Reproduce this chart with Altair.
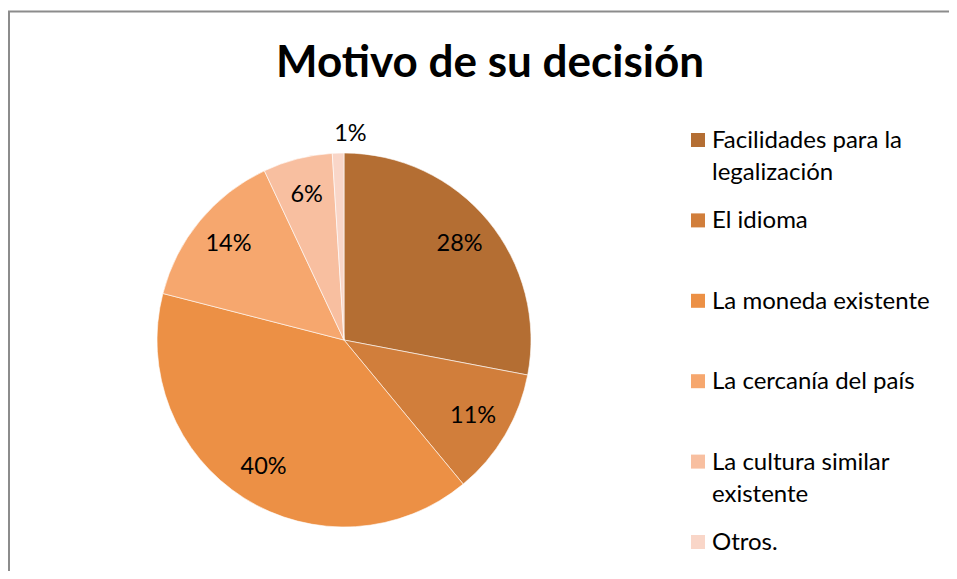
import altair as alt
import pandas as pd

title_text = "Motivo de su decisión"
categories = [
    "Facilidades para la legalización",
    "El idioma",
    "La moneda existente",
    "La cercanía del país",
    "La cultura similar existente",
    "Otros.",
]
legend_labels = [
    "Facilidades para la\nlegalización",
    "El idioma",
    "La moneda existente",
    "La cercanía del país",
    "La cultura similar\nexistente",
    "Otros.",
]
values = [28, 11, 40, 14, 6, 1]
colors = ["#B46E33", "#D17E3B", "#EC9045", "#F6A76E", "#F8BFA0", "#F9D6C8"]

df = pd.DataFrame({
    "cat": categories,
    "legend": legend_labels,
    "value": values,
    "idx": list(range(len(categories))),
})

FONT = "Lato"
cx, cy, R = 336, 332, 187
W, H = 941, 563

color_scale = alt.Scale(domain=categories, range=colors)

base = alt.Chart(df)

pie = base.mark_arc(radius=R, stroke="white", strokeWidth=0.6).encode(
    theta=alt.Theta("value:Q", stack=True),
    color=alt.Color("cat:N", scale=color_scale, legend=None),
    order=alt.Order("idx:Q"),
    x=alt.value(cx),
    y=alt.value(cy),
)

labels = base.transform_calculate(
    lr="datum.value < 3 ? 206 : 150",
    lab="format(datum.value, 'd') + '%'",
).mark_text(font=FONT, fontSize=23.5, color="#000000").encode(
    theta=alt.Theta("value:Q", stack=True),
    radius=alt.Radius("lr:Q", scale=None),
    text="lab:N",
    order=alt.Order("idx:Q"),
    x=alt.value(cx),
    y=alt.value(cy),
)

ypos = alt.Y("cat:N", sort=categories,
             scale=alt.Scale(type="point", domain=categories, range=[132, 534], padding=0),
             axis=None)

leg_sq = base.mark_square(size=196, opacity=1).encode(
    x=alt.value(690),
    y=ypos,
    color=alt.Color("cat:N", scale=color_scale, legend=None),
)

leg_txt = base.mark_text(font=FONT, fontSize=24, align="left", baseline="alphabetic",
                         lineBreak="\n", lineHeight=32, dy=8, color="#000000").encode(
    x=alt.value(704),
    y=ypos,
    text="legend:N",
)

title = alt.Chart(pd.DataFrame({"t": [title_text]})).mark_text(
    font=FONT, fontSize=44, fontWeight="bold", align="center", baseline="alphabetic", color="#000000"
).encode(x=alt.value(482), y=alt.value(69), text="t:N")

frame_left = alt.Chart(pd.DataFrame({"a": [0]})).mark_rule(color="#8C8C8C", strokeWidth=2).encode(
    x=alt.value(1), y=alt.value(3), y2=alt.value(H + 20))
frame_top = alt.Chart(pd.DataFrame({"a": [0]})).mark_rule(color="#8C8C8C", strokeWidth=2).encode(
    x=alt.value(0), x2=alt.value(W + 20), y=alt.value(3.5))

chart = alt.layer(frame_left, frame_top, title, pie, labels, leg_sq, leg_txt).resolve_scale(
    y="independent"
).properties(
    width=W, height=H, padding=0, autosize=alt.AutoSizeParams(type="none"),
    background="white",
).configure_view(stroke="transparent", strokeWidth=0)

chart.save("out.html", embed_options={"renderer": "svg", "actions": False})
